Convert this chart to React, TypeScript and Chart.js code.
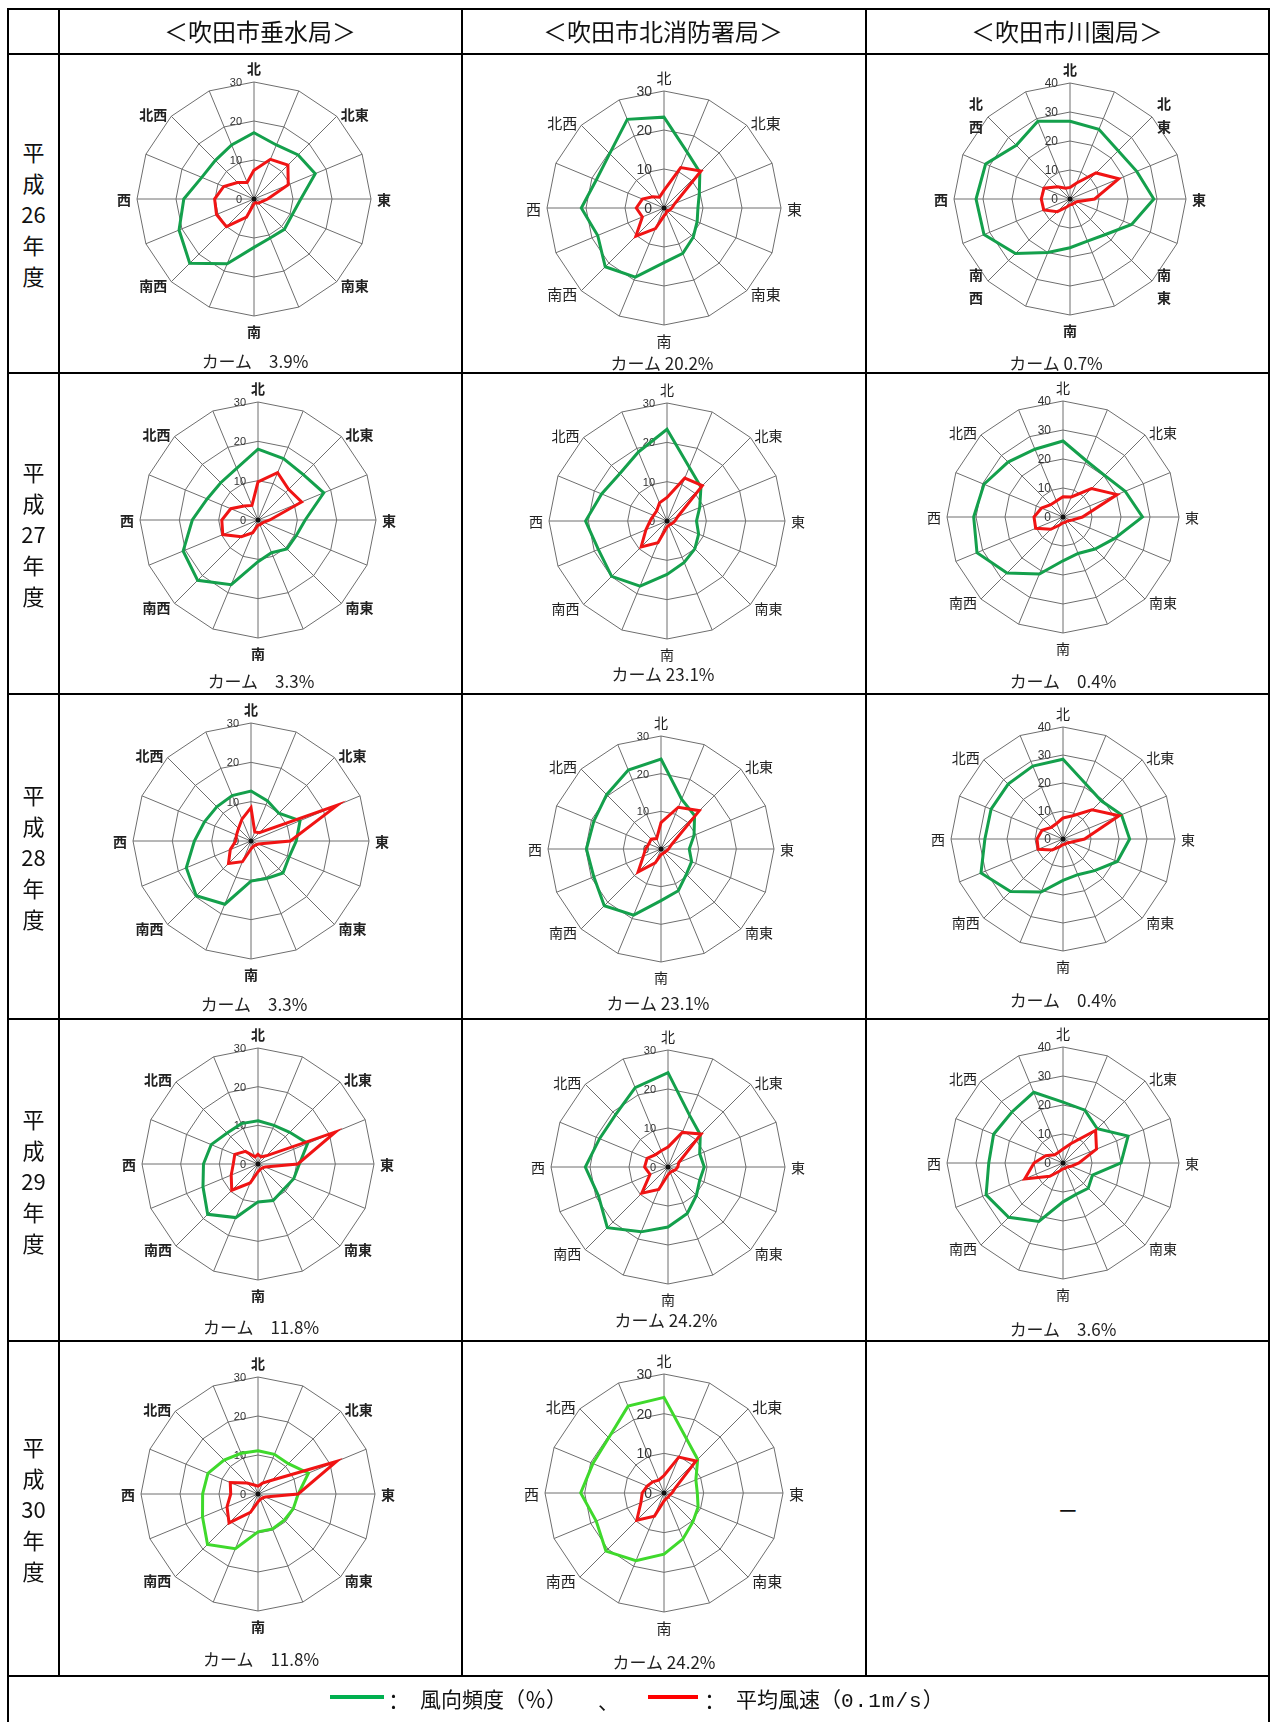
import React, { useEffect, useRef } from "react";
import { Chart, registerables } from "chart.js";

Chart.register(...registerables);

// ---------- categories / labels ----------
const DIRECTIONS = ["北", "北北東", "北東", "東北東", "東", "東南東", "南東", "南南東", "南", "南南西", "南西", "西南西", "西", "西北西", "北西", "北北西"];
const DIRECTION_LABELS = ["北", "", "北東", "", "東", "", "南東", "", "南", "", "南西", "", "西", "", "北西", ""];
const STATIONS = ["＜吹田市垂水局＞", "＜吹田市北消防署局＞", "＜吹田市川園局＞"];
const FISCAL_YEARS = ["26", "27", "28", "29", "30"];
const LEGEND_FREQ = "風向頻度（％）";
const LEGEND_SPEED_A = "平均風速（";
const LEGEND_SPEED_B = "0.1m/s";
const LEGEND_SPEED_C = "）";
const CALM_LABEL = "カーム";
const SCALE_MAX = [30, 30, 40];

// ---------- 吹田市垂水局 ----------
const TARUMI_H26_FREQ = [17, 15, 16, 17, 12, 10.6, 11, 10.8, 12.4, 18, 23.3, 20.8, 18, 14.5, 14, 15];
const TARUMI_H26_SPEED = [7.4, 11, 12.3, 9.5, 3.5, 2, 1.5, 1, 1.2, 5, 10, 10.4, 10.1, 8.4, 6, 4.6];
const TARUMI_H27_FREQ = [18, 16.9, 16.3, 18.1, 12, 10.5, 10.4, 9, 10.6, 17.8, 21.7, 20.6, 16.7, 14, 13.4, 14.2];
const TARUMI_H27_SPEED = [9.7, 13, 11, 12, 3, 1.5, 1.3, 1.3, 1.3, 3.5, 6, 9.7, 9.2, 7.5, 5, 4];
const TARUMI_H28_FREQ = [12.7, 11, 10, 13.5, 11.5, 10.5, 11.5, 10.3, 10.2, 17.4, 19.7, 17.8, 14.4, 12.8, 12.3, 12.5];
const TARUMI_H28_SPEED = [8.5, 2.5, 3, 23.8, 10, 2, 1.5, 1.5, 2, 5.7, 8.1, 5.7, 3.9, 4, 4.5, 6];
const TARUMI_H29_FREQ = [11.2, 10.8, 11.6, 13.9, 10.7, 10, 9.3, 10.2, 9.8, 15, 18.4, 15.4, 14.1, 13.1, 11.3, 11.3];
const TARUMI_H29_SPEED = [2.5, 2, 3, 21.7, 10.3, 2, 1.5, 1.5, 2, 5.3, 9.6, 7.5, 6.4, 6.5, 4.6, 2];
const TARUMI_H30_FREQ = [11.1, 11, 11, 14, 10.3, 9.8, 9.5, 9.7, 9.7, 15.2, 18.3, 15.4, 14.2, 13.9, 12.3, 11.3];
const TARUMI_H30_SPEED = [2, 3, 5, 21.8, 10.3, 2, 1.5, 1.5, 2, 5.1, 10.5, 8.6, 7, 7.7, 4, 2.5];
const CALM_TARUMI = [3.9, 3.3, 3.3, 11.8, 11.8];

// ---------- 吹田市北消防署局 ----------
const KITA_H26_FREQ = [23.3, 15.5, 13, 9.8, 8.7, 9.2, 10.6, 12.6, 14, 19.2, 21.3, 18.4, 21.2, 18.8, 19.7, 24.6];
const KITA_H26_SPEED = [4.5, 11.2, 13.4, 3, 2, 1.5, 1, 1.5, 2, 5.7, 10.2, 6, 7.1, 6, 4.1, 3];
const KITA_H27_FREQ = [23.3, 14.8, 12.2, 9, 7.5, 8.7, 10, 11.4, 13.6, 17.9, 19.9, 18.9, 20.7, 18, 17, 19];
const KITA_H27_SPEED = [6, 11.8, 12.7, 3, 2, 1.5, 1.2, 1.2, 1.5, 6, 9.3, 5.8, 4.3, 3.7, 3.7, 5];
const KITA_H28_FREQ = [23.9, 14.3, 12.6, 9.5, 7.5, 8.8, 9.5, 12, 13.7, 19, 21.3, 19.3, 19.8, 19.3, 20.4, 22.7];
const KITA_H28_SPEED = [7, 12, 14.4, 3, 2, 1.5, 1.3, 1.3, 1.5, 4, 8.6, 5.1, 4.1, 3.5, 3.7, 3];
const KITA_H29_FREQ = [24.2, 14.4, 11.7, 8.8, 9.3, 8.8, 10.3, 12.9, 15.4, 18, 22, 19.3, 21.2, 19, 19, 22];
const KITA_H29_SPEED = [5.1, 9.6, 12, 3, 2.5, 2, 1.5, 1.5, 2, 6.2, 9.5, 5, 6, 5.8, 4.5, 4.5];
const KITA_H30_FREQ = [24.1, 14.8, 12, 8.7, 8.4, 9.3, 10.3, 12.5, 15.4, 18.5, 20.7, 18.5, 21, 19.4, 19.7, 23.7];
const KITA_H30_SPEED = [4.4, 9.8, 11.4, 3, 2, 1.5, 1.5, 1.5, 2, 6.3, 9.7, 6.3, 5.5, 4.6, 4, 3.5];
const CALM_KITA = [20.2, 23.1, 23.1, 24.2, 24.2];

// ---------- 吹田市川園局 ----------
const KAWAZONO_H26_FREQ = [26.8, 26, 23.5, 24.9, 28.9, 23, 17.3, 15.7, 16.8, 20, 26.6, 32.1, 32.4, 31.5, 26.2, 29];
const KAWAZONO_H26_SPEED = [4, 6, 12.7, 18.2, 8.5, 2.5, 2, 2, 2, 3, 6.2, 9.8, 9.9, 9.7, 6, 4];
const KAWAZONO_H27_FREQ = [26.2, 21, 20.3, 23.2, 27.4, 19.3, 15.6, 13.6, 15.1, 21.3, 27.3, 32.1, 30.8, 29.5, 26.8, 25.3];
const KAWAZONO_H27_SPEED = [7, 7.5, 13.9, 20.2, 6.7, 3, 2, 2, 2, 3, 6, 10.2, 10, 8, 6, 6];
const KAWAZONO_H28_FREQ = [28.5, 21.3, 19.3, 22.6, 23.8, 21, 16, 13.8, 14.8, 20.5, 26.5, 31.7, 27.9, 27.8, 27.7, 28.2];
const KAWAZONO_H28_SPEED = [7.5, 9, 14.7, 21.7, 7.7, 3, 2, 2, 2, 3, 5.5, 9.6, 9.3, 8.1, 5.9, 6];
const KAWAZONO_H29_FREQ = [21, 19.7, 16.7, 24.3, 20, 11, 12.3, 11.7, 13.4, 21.8, 26.5, 28.7, 25.6, 25.9, 24.9, 26.4];
const KAWAZONO_H29_SPEED = [4.8, 7.3, 15.9, 12.5, 5.5, 3, 2, 2, 2, 3, 6.5, 14.3, 10, 6.5, 4, 4];
const CALM_KAWAZONO = [0.7, 0.4, 0.4, 3.6];

const FREQ_BY_STATION = [
  [TARUMI_H26_FREQ, TARUMI_H27_FREQ, TARUMI_H28_FREQ, TARUMI_H29_FREQ, TARUMI_H30_FREQ],
  [KITA_H26_FREQ, KITA_H27_FREQ, KITA_H28_FREQ, KITA_H29_FREQ, KITA_H30_FREQ],
  [KAWAZONO_H26_FREQ, KAWAZONO_H27_FREQ, KAWAZONO_H28_FREQ, KAWAZONO_H29_FREQ],
];
const SPEED_BY_STATION = [
  [TARUMI_H26_SPEED, TARUMI_H27_SPEED, TARUMI_H28_SPEED, TARUMI_H29_SPEED, TARUMI_H30_SPEED],
  [KITA_H26_SPEED, KITA_H27_SPEED, KITA_H28_SPEED, KITA_H29_SPEED, KITA_H30_SPEED],
  [KAWAZONO_H26_SPEED, KAWAZONO_H27_SPEED, KAWAZONO_H28_SPEED, KAWAZONO_H29_SPEED],
];
const CALM_BY_STATION = [CALM_TARUMI, CALM_KITA, CALM_KAWAZONO];

// ---------- layout (positions / sizes / styles) ----------
const V_LINES = [7, 58, 461, 865, 1268];
const H_LINES = [8, 53, 372, 693, 1018, 1340, 1675];
const COL_CENTERS = [260, 663, 1067];
// [cx, cy, radius] per station per year
const GEOMETRY = [
  [[254, 199, 117], [258, 520, 118], [251, 841, 118], [258, 1164, 116], [258, 1494, 117]],
  [[664, 208, 117], [667, 521, 118], [661, 849, 113], [668, 1167, 117], [664, 1493, 119]],
  [[1070, 199, 116], [1063, 517, 116], [1063, 839, 112], [1063, 1163, 116]],
];
const CALM_POS = [
  [[255, 361], [261, 681], [254, 1004], [261, 1327], [261, 1659]],
  [[662, 363], [663, 674], [658, 1003], [666, 1320], [664, 1662]],
  [[1056, 363], [1063, 681], [1063, 1000], [1063, 1329]],
];
const GREEN = "#14a04c";
const LIME = "#3fd92c";
const RED = "#f01414";
const GRID = "#6e6e6e";
const PAD = 50;

type Spec = {
  freq: number[];
  speed: number[];
  max: number;
  cx: number;
  cy: number;
  R: number;
  green: string;
  stacked: boolean;
  bold: boolean;
  tickFont: number;
  labelFont: number;
};

function RadarChart({ spec }: { spec: Spec }) {
  const ref = useRef<HTMLCanvasElement>(null);
  const S = 2 * spec.R + 2 * PAD;
  useEffect(() => {
    const canvas = ref.current;
    if (!canvas) return;
    const labelPlugin = {
      id: "windLabels",
      beforeDatasetsDraw(chart: any) {
        const s = chart.scales.r;
        const ctx = chart.ctx;
        ctx.save();
        ctx.font = `${spec.tickFont}px "Liberation Sans", Arial, sans-serif`;
        ctx.fillStyle = "#333";
        ctx.textAlign = "right";
        ctx.textBaseline = "middle";
        for (const t of s.ticks) {
          const d = s.getDistanceFromCenterForValue(t.value);
          ctx.fillText(String(t.value), s.xCenter - 12, s.yCenter - d + 1);
        }
        ctx.restore();
      },
      afterDatasetsDraw(chart: any) {
        const s = chart.scales.r;
        const ctx = chart.ctx;
        ctx.save();
        ctx.fillStyle = "#111";
        ctx.beginPath();
        ctx.arc(s.xCenter, s.yCenter, 2.5, 0, Math.PI * 2);
        ctx.fill();
        ctx.fillStyle = "#222";
        ctx.font = `${spec.bold ? "bold " : ""}${spec.labelFont}px "Noto Sans CJK JP", sans-serif`;
        ctx.textBaseline = "middle";
        const R = s.drawingArea;
        DIRECTION_LABELS.forEach((text, i) => {
          if (!text) return;
          const p = s.getPointPosition(i, R);
          const diag = text.length === 2;
          if (diag && spec.stacked) {
            const east = i === 2 || i === 6;
            const north = i === 2 || i === 14;
            const x = p.x + (east ? 12 : -12);
            const y = p.y + (north ? -2 : 5);
            ctx.textAlign = "center";
            ctx.fillText(text[0], x, y - 11.5);
            ctx.fillText(text[1], x, y + 11.5);
            return;
          }
          if (i === 0) {
            ctx.textAlign = "center";
            ctx.fillText(text, p.x, p.y - 13);
          } else if (i === 8) {
            ctx.textAlign = "center";
            ctx.fillText(text, p.x, p.y + 16);
          } else if (i === 4) {
            ctx.textAlign = "left";
            ctx.fillText(text, p.x + 6, p.y + 1);
          } else if (i === 12) {
            ctx.textAlign = "right";
            ctx.fillText(text, p.x - 6, p.y + 1);
          } else if (i === 2) {
            ctx.textAlign = "left";
            ctx.fillText(text, p.x + 4, p.y - 2);
          } else if (i === 14) {
            ctx.textAlign = "right";
            ctx.fillText(text, p.x - 4, p.y - 2);
          } else if (i === 6) {
            ctx.textAlign = "left";
            ctx.fillText(text, p.x + 4, p.y + 4);
          } else if (i === 10) {
            ctx.textAlign = "right";
            ctx.fillText(text, p.x - 4, p.y + 4);
          }
        });
        ctx.restore();
      },
    };
    const chart = new Chart(canvas, {
      type: "radar",
      data: {
        labels: DIRECTIONS,
        datasets: [
          { label: "平均風速", data: spec.speed, borderColor: RED, borderWidth: 3, pointRadius: 0, fill: false, tension: 0 },
          { label: "風向頻度", data: spec.freq, borderColor: spec.green, borderWidth: 3, pointRadius: 0, fill: false, tension: 0 },
        ],
      },
      options: {
        animation: false,
        responsive: false,
        maintainAspectRatio: false,
        layout: { padding: PAD },
        plugins: { legend: { display: false }, tooltip: { enabled: false } },
        scales: {
          r: {
            min: 0,
            max: spec.max,
            ticks: { display: false, stepSize: 10 },
            pointLabels: { display: false },
            grid: { color: GRID, lineWidth: 1 },
            angleLines: { color: GRID, lineWidth: 1 },
          },
        },
      } as any,
      plugins: [labelPlugin],
    });
    return () => chart.destroy();
  }, []);
  return (
    <canvas
      ref={ref}
      width={S}
      height={S}
      style={{ position: "absolute", left: spec.cx - S / 2, top: spec.cy - S / 2, width: S, height: S }}
    />
  );
}

function Abs({ x, y, w, h, children, style }: any) {
  return (
    <div
      style={{
        position: "absolute",
        left: x - w / 2,
        top: y - h / 2,
        width: w,
        height: h,
        lineHeight: `${h}px`,
        textAlign: "center",
        whiteSpace: "nowrap",
        ...style,
      }}
    >
      {children}
    </div>
  );
}

export default function App() {
  const specs: { spec: Spec; calm: string; calmX: number; calmY: number }[] = [];
  FREQ_BY_STATION.forEach((years, st) => {
    years.forEach((freq, yi) => {
      const [cx, cy, R] = GEOMETRY[st][yi];
      const [calmX, calmY] = CALM_POS[st][yi];
      const sep = st === 1 || (st === 2 && yi === 0) ? " " : "\u3000";
      specs.push({
        spec: {
          freq,
          speed: SPEED_BY_STATION[st][yi],
          max: SCALE_MAX[st],
          cx,
          cy,
          R,
          green: yi === 4 ? LIME : GREEN,
          stacked: st === 2 && yi === 0,
          bold: st === 0 || (st === 2 && yi === 0),
          tickFont: st === 1 && (yi === 0 || yi === 4) ? 14 : st === 2 ? 12 : 11,
          labelFont: st === 1 && (yi === 0 || yi === 4) ? 15 : 14,
        },
        calm: `${CALM_LABEL}${sep}${CALM_BY_STATION[st][yi].toFixed(1)}%`,
        calmX,
        calmY,
      });
    });
  });

  const line = (key: string, x: number, y: number, w: number, h: number) => (
    <div key={key} style={{ position: "absolute", left: x, top: y, width: w, height: h, background: "#000" }} />
  );

  const rowCenters = H_LINES.slice(1, 6).map((y, i) => (y + 2 + H_LINES[i + 2]) / 2);

  return (
    <div
      style={{
        position: "absolute",
        left: 0,
        top: 0,
        width: 1271,
        height: 1722,
        overflow: "hidden",
        background: "#fff",
        fontFamily: '"Noto Sans CJK JP", sans-serif',
        color: "#111",
      }}
    >
      {/* charts */}
      {specs.map((s, i) => (
        <React.Fragment key={i}>
          <RadarChart spec={s.spec} />
          <Abs x={s.calmX} y={s.calmY} w={200} h={22} style={{ fontSize: 17, color: "#222" }}>
            {s.calm}
          </Abs>
        </React.Fragment>
      ))}

      {/* table lines */}
      {V_LINES.map((x, i) =>
        line(`v${i}`, x, H_LINES[0], 2, i === 0 || i === 4 ? 1722 - H_LINES[0] : H_LINES[6] + 2 - H_LINES[0])
      )}
      {H_LINES.map((y, i) => line(`h${i}`, V_LINES[0], y, V_LINES[4] + 2 - V_LINES[0], 2))}

      {/* header */}
      {STATIONS.map((s, i) => (
        <Abs key={s} x={COL_CENTERS[i]} y={31} w={380} h={30} style={{ fontSize: 24, letterSpacing: 0 }}>
          {s}
        </Abs>
      ))}

      {/* row labels */}
      {FISCAL_YEARS.map((yr, i) => (
        <div
          key={yr}
          style={{
            position: "absolute",
            left: 9,
            width: 49,
            top: rowCenters[i] - 77.5,
            height: 155,
            lineHeight: "31px",
            fontSize: 22,
            textAlign: "center",
          }}
        >
          <div>平</div>
          <div>成</div>
          <div>{yr}</div>
          <div>年</div>
          <div>度</div>
        </div>
      ))}

      {/* empty cell */}
      <Abs x={1068} y={1508} w={40} h={24} style={{ fontSize: 19, fontWeight: "bold" }}>
        —
      </Abs>

      {/* legend */}
      <div style={{ position: "absolute", left: 330, top: 1695, width: 54, height: 4, background: "#00b050" }} />
      <Abs x={393} y={1700} w={20} h={26} style={{ fontSize: 21 }}>：</Abs>
      <div
        style={{
          position: "absolute",
          left: 420,
          top: 1687,
          height: 26,
          lineHeight: "26px",
          fontSize: 21,
          whiteSpace: "nowrap",
          fontFamily: '"Liberation Serif", "Noto Sans CJK JP", serif',
        }}
      >
        {LEGEND_FREQ}
      </div>
      <Abs x={608} y={1700} w={20} h={26} style={{ fontSize: 21 }}>、</Abs>
      <div style={{ position: "absolute", left: 648, top: 1695, width: 50, height: 4, background: "#ff0000" }} />
      <Abs x={709} y={1700} w={20} h={26} style={{ fontSize: 21 }}>：</Abs>
      <div
        style={{
          position: "absolute",
          left: 736,
          top: 1687,
          height: 26,
          lineHeight: "26px",
          fontSize: 21,
          whiteSpace: "nowrap",
          fontFamily: '"Liberation Serif", "Noto Sans CJK JP", serif',
        }}
      >
        {LEGEND_SPEED_A}
        <span style={{ fontFamily: '"Liberation Mono", monospace', fontSize: 21, letterSpacing: 1 }}>{LEGEND_SPEED_B}</span>
        {LEGEND_SPEED_C}
      </div>
    </div>
  );
}
